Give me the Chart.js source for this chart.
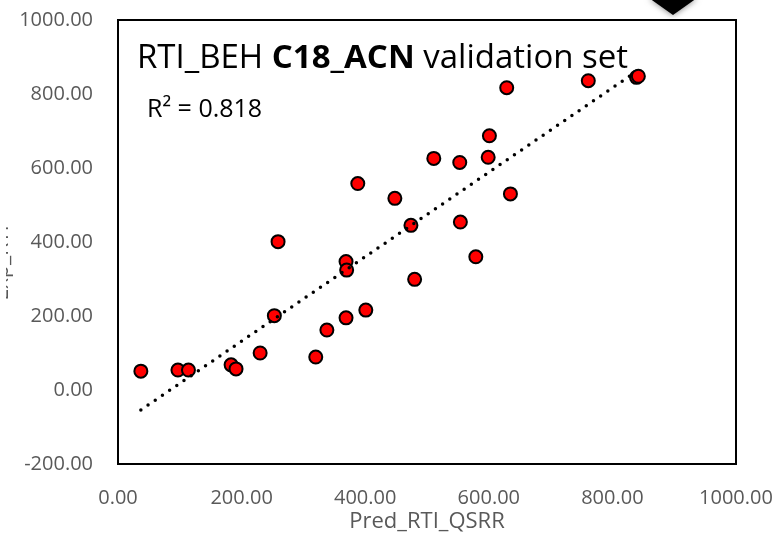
<!DOCTYPE html>
<html>
<head>
<meta charset="utf-8">
<script src="https://cdn.jsdelivr.net/npm/chart.js@4.4.1/dist/chart.umd.min.js"></script>
<style>
  html, body { margin: 0; padding: 0; background: #fff; }
  #wrap { width: 776px; height: 537px; position: relative; }
</style>
</head>
<body>
<div id="wrap"><canvas id="chart"></canvas></div>
<script>
// predicted vs. experimental retention index, validation set
const predX = [37, 97, 114, 183, 191, 230, 320, 338, 253, 369, 401, 259, 369, 370, 480,
               474, 554, 579, 448, 388, 511, 553, 599, 601, 635, 629, 761, 839, 842];
const expY  = [51, 54, 54, 68, 57, 100, 89, 162, 201, 195, 216, 401, 347, 324, 299,
               445, 454, 360, 518, 558, 626, 615, 629, 687, 530, 817, 836, 845, 848];

// linear trendline endpoints
const trendX = [37, 839];
const trendY = [-54, 861];

const xTicks = [0, 200, 400, 600, 800, 1000];
const yTicks = [-200, 0, 200, 400, 600, 800, 1000];

const xTitle = 'Pred_RTI_QSRR';
const yTitle = 'Exp_RTI';
const r2Text = 'R\u00B2 = 0.818';

const grey = '#595959';
const FONT = '"Open Sans", "DejaVu Sans", sans-serif';

// box around plot area, title text, r2 note, y title, corner marker
const decorations = {
  id: 'decorations',
  afterDatasetsDraw(chart) {
    const ctx = chart.ctx;
    const a = chart.chartArea;
    ctx.save();
    ctx.strokeStyle = '#000';
    ctx.lineWidth = 2;
    ctx.strokeRect(a.left, a.top, a.right - a.left, a.bottom - a.top);

    // title with bold middle part
    let x = a.left + 19;
    const y = 68;
    ctx.fillStyle = '#000';
    ctx.textBaseline = 'alphabetic';
    ctx.textAlign = 'left';
    const parts = [['RTI_BEH ', 'normal'], ['C18_ACN', 'bold'], [' validation set', 'normal']];
    parts.forEach(p => {
      ctx.font = p[1] + ' 33px ' + FONT;
      ctx.fillText(p[0], x, y);
      x += ctx.measureText(p[0]).width;
    });

    ctx.font = '25px ' + FONT;
    ctx.fillText(r2Text, a.left + 29, 117);

    // y axis title, only its lower edge shows at the left margin
    ctx.save();
    ctx.beginPath();
    ctx.rect(6, 0, 30, 537);
    ctx.clip();
    ctx.translate(7.5, 263);
    ctx.rotate(-Math.PI / 2);
    ctx.font = '21px ' + FONT;
    ctx.fillStyle = grey;
    ctx.textAlign = 'center';
    ctx.fillText(yTitle, 0, 0);
    ctx.restore();

    // small black pointer at the top
    ctx.save();
    ctx.shadowColor = 'rgba(0,0,0,0.55)';
    ctx.shadowBlur = 6;
    ctx.fillStyle = '#000';
    ctx.beginPath();
    ctx.moveTo(649, -2);
    ctx.lineTo(697, -2);
    ctx.lineTo(673, 15);
    ctx.closePath();
    ctx.fill();
    ctx.restore();

    ctx.restore();
  }
};

new Chart(document.getElementById('chart'), {
  type: 'scatter',
  data: {
    datasets: [
      {
        label: 'trend',
        data: trendX.map((v, i) => ({ x: v, y: trendY[i] })),
        showLine: true,
        borderColor: '#000',
        borderWidth: 3.5,
        borderDash: [0, 8.7],
        borderCapStyle: 'round',
        pointRadius: 0,
        order: 0
      },
      {
        label: 'validation',
        data: predX.map((v, i) => ({ x: v, y: expY[i] })),
        backgroundColor: '#ff0000',
        borderColor: '#000',
        borderWidth: 2,
        pointRadius: 6.5,
        order: 1
      }
    ]
  },
  options: {
    responsive: true,
    maintainAspectRatio: false,
    animation: false,
    layout: { padding: { left: 0, top: 20, right: 40, bottom: 0 } },
    plugins: {
      legend: { display: false },
      tooltip: { enabled: false }
    },
    scales: {
      x: {
        type: 'linear',
        min: 0,
        max: 1000,
        afterFit: s => { s.height = 73; s.paddingLeft = 0; s.paddingRight = 0; },
        afterBuildTicks: s => { s.ticks = xTicks.map(v => ({ value: v })); },
        grid: { display: false, drawTicks: false },
        border: { display: false },
        ticks: {
          padding: 22,
          color: grey,
          font: { family: FONT, size: 20 },
          callback: v => v.toFixed(2)
        },
        title: {
          display: true,
          text: xTitle,
          color: grey,
          font: { family: FONT, size: 22 },
          padding: { top: 0, bottom: 2 }
        }
      },
      y: {
        type: 'linear',
        min: -200,
        max: 1000,
        afterFit: s => { s.width = 118; s.paddingTop = 0; s.paddingBottom = 0; },
        afterBuildTicks: s => { s.ticks = yTicks.map(v => ({ value: v })); },
        grid: { display: false, drawTicks: false },
        border: { display: false },
        ticks: {
          padding: 25,
          color: grey,
          font: { family: FONT, size: 20 },
          callback: v => v.toFixed(2)
        }
      }
    }
  },
  plugins: [decorations]
});
</script>
</body>
</html>
